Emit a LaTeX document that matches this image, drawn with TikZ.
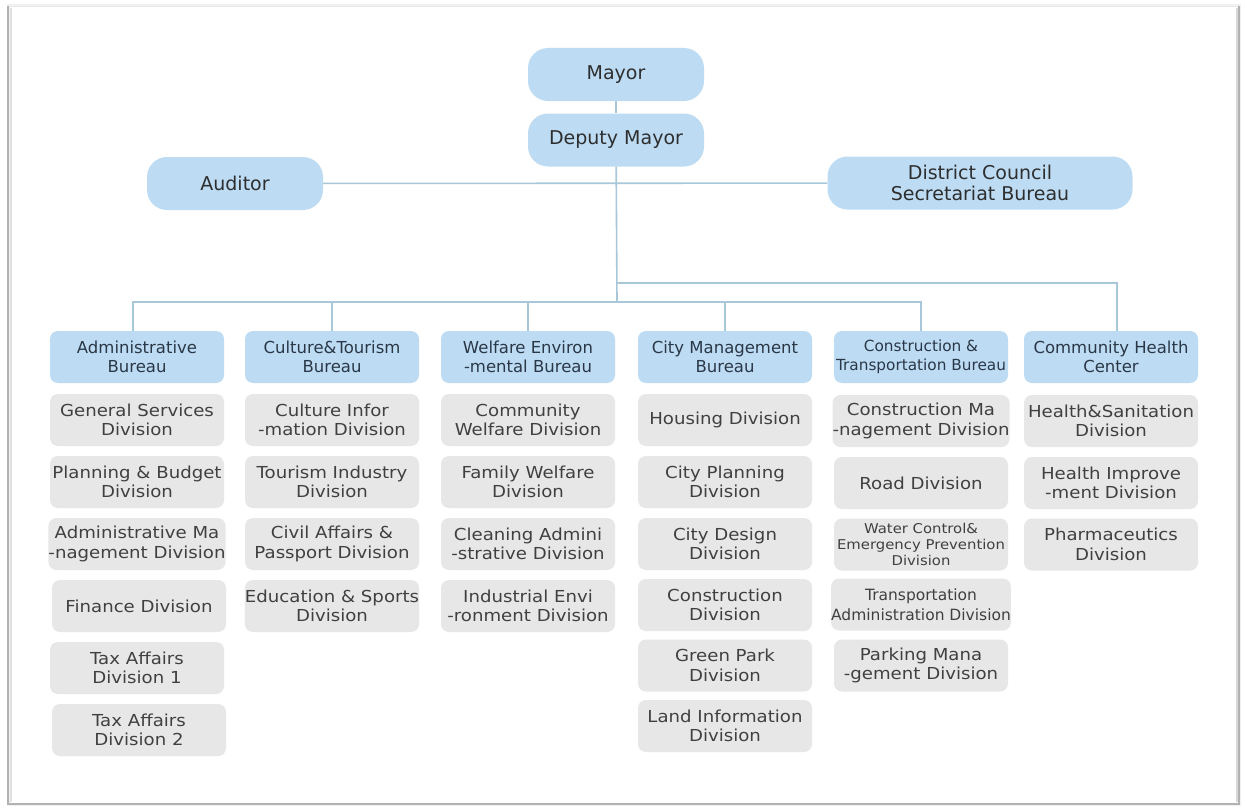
\documentclass[tikz,border=0pt]{standalone}
\usepackage{fontspec}
\setmainfont{DejaVu Sans}
\newfontfamily\divfont{DejaVu Sans}[FakeStretch=1.1]
\newfontfamily\headfont{DejaVu Sans}
\definecolor{boxblue}{HTML}{BDDCF4}
\definecolor{boxgray}{HTML}{E7E7E7}
\definecolor{linecol}{HTML}{A8C8DA}
\definecolor{headtext}{HTML}{2A3746}
\definecolor{divtext}{HTML}{404040}
\definecolor{toptext}{HTML}{2E2E2E}
\begin{document}
\begin{tikzpicture}[x=1pt,y=-1pt,
 topbox/.style={fill=boxblue, rounded corners=20pt, minimum width=176pt, minimum height=53pt, inner sep=0pt, align=center, text=toptext, font=\fontsize{19}{21}\selectfont},
 headbox/.style={fill=boxblue, rounded corners=8pt, minimum width=174pt, minimum height=52pt, inner sep=0pt, align=center, text=headtext, font=\headfont\fontsize{16.5}{19}\selectfont},
 divbox/.style={fill=boxgray, rounded corners=8pt, minimum width=174pt, minimum height=52pt, inner sep=0pt, align=center, text=divtext, font=\divfont\fontsize{16.5}{19.5}\selectfont},
 conn/.style={draw=linecol, line width=1.6pt}]
\useasboundingbox (0,0) rectangle (1246,808);
% frame
\fill[white] (0,0) rectangle (1246,808);
\draw[black!6, line width=3pt] (8,6) rectangle (1239,804);
\draw[black!8, line width=0.8pt] (8,6) -- (1239,6);
\draw[black!30, line width=1.2pt] (8,6) -- (8,804) -- (1239,804) -- (1239,6);
\draw[black!12, line width=2pt] (10.5,8) -- (10.5,802);
\draw[black!15, line width=2pt] (1236.5,8) -- (1236.5,802);
% top nodes
\node[topbox] (mayor) at (616,74.5) {Mayor};
\node[topbox] (deputy) at (616,140) {Deputy Mayor};
\node[topbox] (auditor) at (235,183.5) {Auditor};
\node[topbox, minimum width=305pt] (council) at (980,183) {District Council\\Secretariat Bureau};
% bureaus
\node[headbox] (b1) at (137,357) {Administrative\\Bureau};
\node[headbox] (b2) at (332,357) {Culture\&Tourism\\Bureau};
\node[headbox] (b3) at (528,357) {Welfare Environ\\-mental Bureau};
\node[headbox] (b4) at (725,357) {City Management\\Bureau};
\node[headbox, font=\headfont\fontsize{15.3}{19}\selectfont] (b5) at (921,357) {Construction \&\\Transportation Bureau};
\node[headbox] (b6) at (1111,357) {Community Health\\Center};
% connectors
\coordinate (j1) at (617,283);
\coordinate (j2) at (617,302);
\draw[conn] (mayor) -- (deputy);
\draw[conn] (deputy) -- (j2);
\draw[conn] (auditor) -- (council);
\draw[conn] (j1) -| ([xshift=6pt]b6.north);
\draw[conn] (j2) -| ([xshift=-4pt]b1.north);
\draw[conn] (j2) -| (b2);
\draw[conn] (j2) -| (b3);
\draw[conn] (j2) -| (b4);
\draw[conn] (j2) -| (b5);
% column 1
\node[divbox] (d11) at (137,420) {General Services\\Division};
\node[divbox] (d12) at (137,482) {Planning \& Budget\\Division};
\node[divbox] (d13) at (137,544) {Administrative Ma\\-nagement Division};
\node[divbox] (d14) at (139,606) {Finance Division};
\node[divbox] (d15) at (137,668) {Tax Affairs\\Division 1};
\node[divbox] (d16) at (139,730) {Tax Affairs\\Division 2};
% column 2
\node[divbox] (d21) at (332,420) {Culture Infor\\-mation Division};
\node[divbox] (d22) at (332,482) {Tourism Industry\\Division};
\node[divbox] (d23) at (332,544) {Civil Affairs \&\\Passport Division};
\node[divbox] (d24) at (332,606) {Education \& Sports\\Division};
% column 3
\node[divbox] (d31) at (528,420) {Community\\Welfare Division};
\node[divbox] (d32) at (528,482) {Family Welfare\\Division};
\node[divbox] (d33) at (528,544) {Cleaning Admini\\-strative Division};
\node[divbox] (d34) at (528,606) {Industrial Envi\\-ronment Division};
% column 4
\node[divbox] (d41) at (725,420) {Housing Division};
\node[divbox] (d42) at (725,482) {City Planning\\Division};
\node[divbox] (d43) at (725,544) {City Design\\Division};
\node[divbox] (d44) at (725,605) {Construction\\Division};
\node[divbox] (d45) at (725,665.5) {Green Park\\Division};
\node[divbox] (d46) at (725,726) {Land Information\\Division};
% column 5
\node[divbox] (d51) at (921,421) {Construction Ma\\-nagement Division};
\node[divbox] (d52) at (921,483) {Road Division};
\node[divbox, font=\divfont\fontsize{13.5}{16}\selectfont] (d53) at (921,544.5) {Water Control\&\\Emergency Prevention\\Division};
\node[divbox, font=\headfont\fontsize{15.5}{19.5}\selectfont] (d54) at (921,604.5) {Transportation\\Administration Division};
\node[divbox] (d55) at (921,665.5) {Parking Mana\\-gement Division};
% column 6
\node[divbox] (d61) at (1111,421) {Health\&Sanitation\\Division};
\node[divbox] (d62) at (1111,483) {Health Improve\\-ment Division};
\node[divbox] (d63) at (1111,544.5) {Pharmaceutics\\Division};
\end{tikzpicture}
\end{document}
